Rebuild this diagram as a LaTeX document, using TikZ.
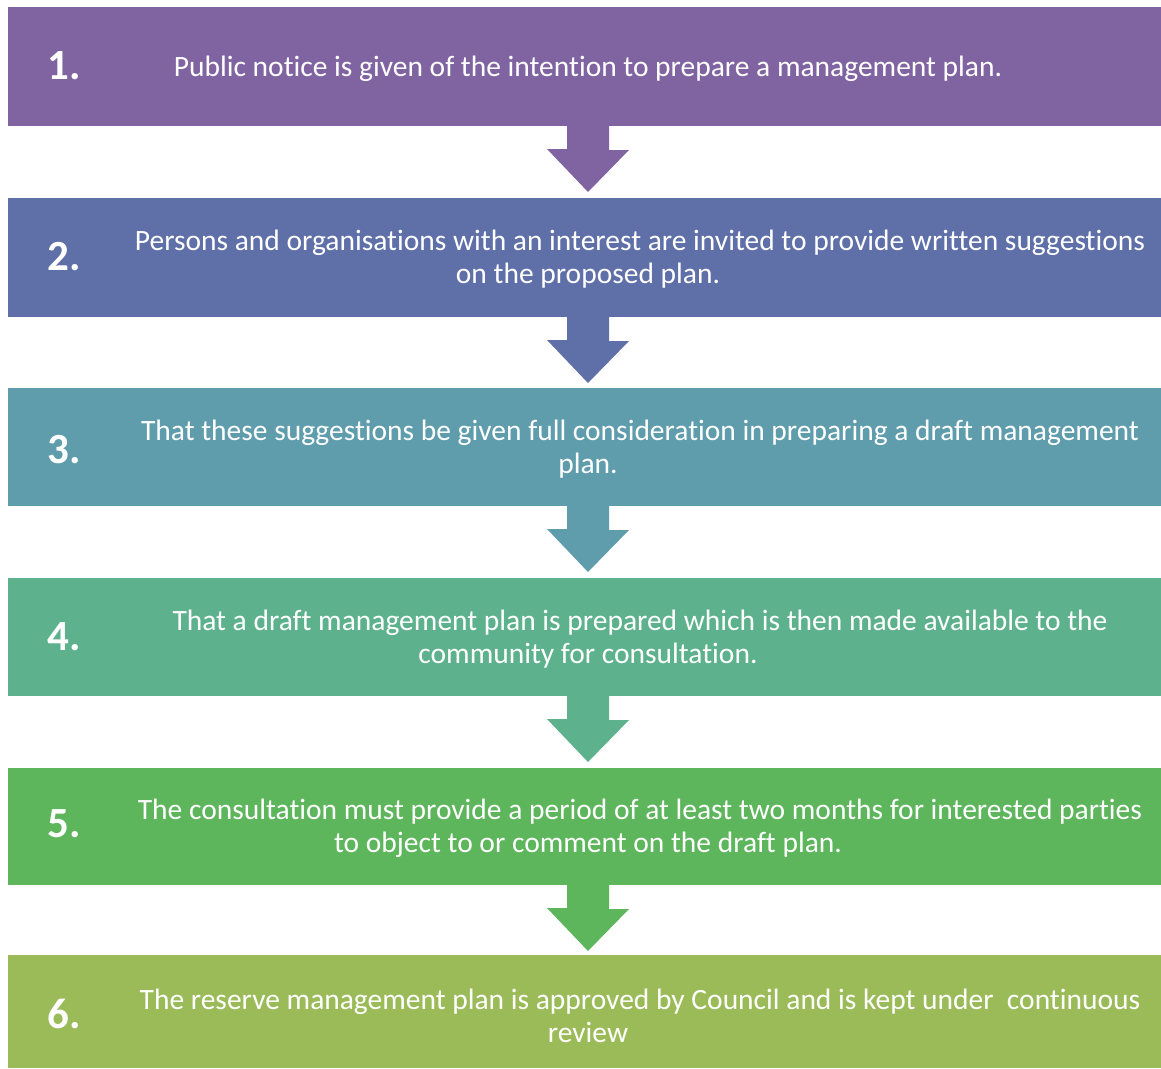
\documentclass[tikz,border=0pt]{standalone}
\usepackage{fontspec}
\setmainfont{Carlito}[Ligatures=CommonOff]
\definecolor{c1}{HTML}{8064A2}
\definecolor{c2}{HTML}{5F6FA8}
\definecolor{c3}{HTML}{5F9DAC}
\definecolor{c4}{HTML}{5DB28D}
\definecolor{c5}{HTML}{5DB55C}
\definecolor{c6}{HTML}{9BBB59}
\newcommand{\ind}{\hspace*{104pt}}
\tikzset{
  numtext/.style={text=white, font=\fontsize{43}{43}\selectfont\bfseries, anchor=center},
  bodytext/.style={text=white, font=\fontsize{29.5}{33}\selectfont, align=center, anchor=center}
}
\begin{document}
\begin{tikzpicture}[x=1pt,y=-1pt]
\useasboundingbox (0,0) rectangle (1161,1068);
\fill[white] (0,0) rectangle (1161,1068);
% boxes
\fill[c1] (8,7) rectangle (1161,126);
\fill[c2] (8,198) rectangle (1161,317);
\fill[c3] (8,388) rectangle (1161,506);
\fill[c4] (8,578) rectangle (1161,696);
\fill[c5] (8,768) rectangle (1161,885);
\fill[c6] (8,955) rectangle (1161,1068);
\coordinate (b1) at (588,126);
\coordinate (b2) at (588,317);
\coordinate (b3) at (588,506);
\coordinate (b4) at (588,696);
\coordinate (b5) at (588,885);
% arrows
\foreach \b/\c in {b1/c1,b2/c2,b3/c3,b4/c4,b5/c5}{
  \fill[\c] ([xshift=-21pt,yshift=1pt]\b) -- ++(0,24) -- ++(-20,0) -- ([yshift=-66pt]\b) -- ++(41,-42) -- ++(-20,0) -- ++(0,-24) -- cycle;
}
% numbers
\node[numtext] (n1) at (64,66) {1.};
\node[numtext] (n2) at (64,257) {2.};
\node[numtext] (n3) at (64,450) {3.};
\node[numtext] (n4) at (64,637) {4.};
\node[numtext] (n5) at (64,824) {5.};
\node[numtext] (n6) at (64,1014) {6.};
% texts
\node[bodytext] (t1) at (588,69) {Public notice is given of the intention to prepare a management plan.};
\node[bodytext] (t2) at (588,259) {\ind Persons and organisations with an interest are invited to provide written suggestions\\on the proposed plan.};
\node[bodytext] (t3) at (588,449) {\ind That these suggestions be given full consideration in preparing a draft management\\plan.};
\node[bodytext] (t4) at (588,639) {\ind That a draft management plan is prepared which is then made available to the\\community for consultation.};
\node[bodytext] (t5) at (588,828) {\ind The consultation must provide a period of at least two months for interested parties\\to object to or comment on the draft plan.};
\node[bodytext] (t6) at (588,1016) {\ind The reserve management plan is approved by Council and is kept under\ \ continuous\\review};
\end{tikzpicture}
\end{document}
